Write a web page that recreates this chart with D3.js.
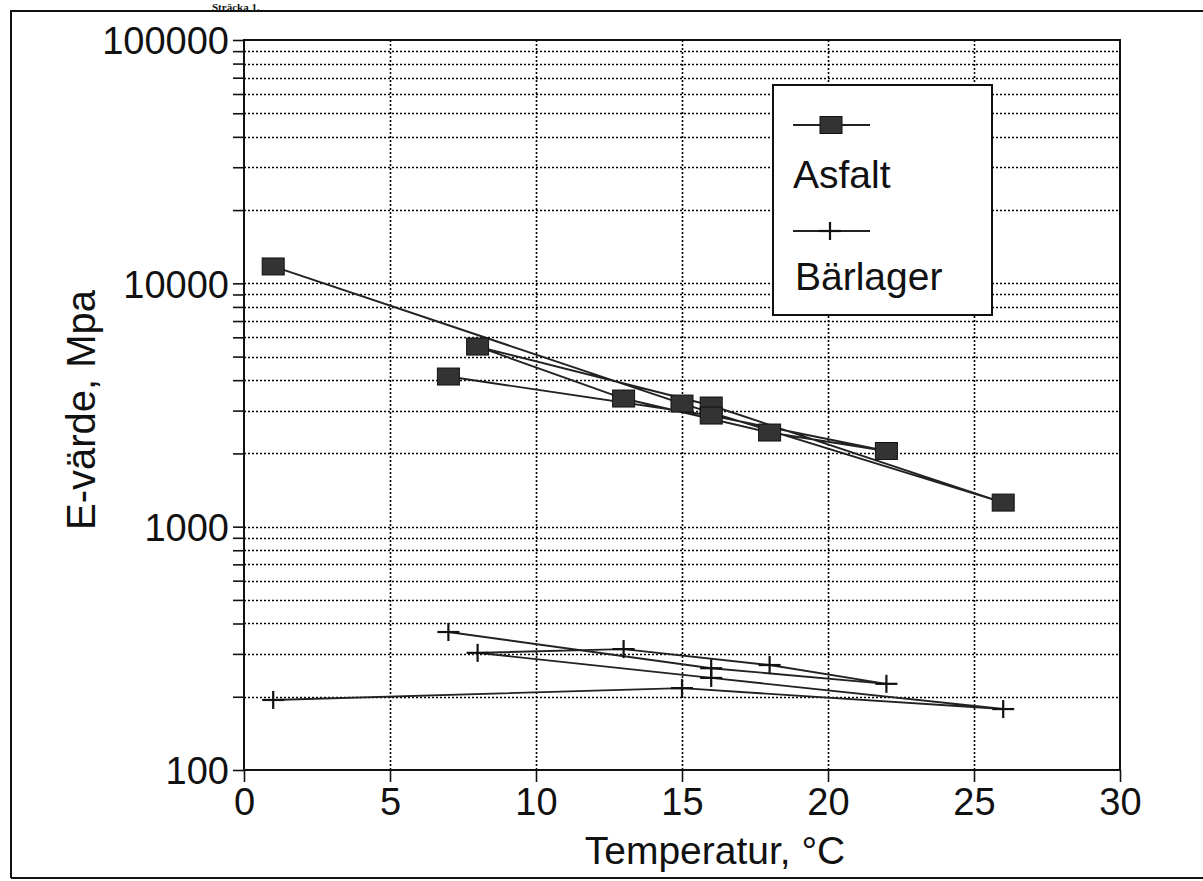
<!DOCTYPE html>
<html><head><meta charset="utf-8">
<script src="https://cdn.jsdelivr.net/npm/d3@7"></script>
<style>body{margin:0;background:#fff;} text{font-family:"Liberation Sans",Arial,sans-serif;fill:#111;}</style>
</head><body>
<svg id="c" width="1203" height="881"></svg>
<script>
// Data (measurement order, connected in sequence)
const temps    = [1, 15, 26, 16, 8, 13, 18, 22, 16, 7];
const asfalt   = [11730, 3206, 1256, 3147, 5497, 3362, 2437, 2046, 2862, 4140];
const barlager = [194, 217, 178, 239, 303, 314, 270, 226, 262, 369];
const xTicks   = [0, 5, 10, 15, 20, 25, 30];
const yLabels  = [100, 1000, 10000, 100000];
const legendNames = ["Asfalt", "Bärlager"];
const xTitle = "Temperatur, °C";
const yTitle = "E-värde, Mpa";
const pageTitle = "Sträcka 1.";

const svg = d3.select("#c");
const L = 244, R = 1120, T = 40, B = 770;
const x = d3.scaleLinear().domain([0, 30]).range([L, R]);
const y = d3.scaleLog().domain([100, 100000]).range([B, T]);

// outer page frame
svg.append("path").attr("d", `M11,878 L11,11 L1203,11`).attr("fill","none").attr("stroke","#111").attr("stroke-width",2);
svg.append("line").attr("x1",11).attr("x2",1203).attr("y1",878).attr("y2",878).attr("stroke","#111").attr("stroke-width",2);

// page title (above the frame)
svg.append("text").attr("x",212).attr("y",10.5)
  .style("font-family","Liberation Serif, serif").attr("font-weight","bold").attr("font-size",11).text(pageTitle);

// minor tick values
const allTicks = [];
[100, 1000, 10000].forEach(d => { for (let k = 1; k <= 9; k++) allTicks.push(k * d); });
allTicks.push(100000);

// horizontal dotted gridlines
svg.append("g").selectAll("line").data(allTicks.filter(v => v > 100 && v < 100000)).join("line")
  .attr("x1", L).attr("x2", R).attr("y1", d => Math.round(y(d)) + 0.5).attr("y2", d => Math.round(y(d)) + 0.5)
  .attr("stroke", "#000").attr("stroke-width", 1.6).attr("stroke-dasharray", "2,2");
// vertical dotted gridlines
svg.append("g").selectAll("line").data(xTicks.filter(v => v > 0 && v < 30)).join("line")
  .attr("x1", d => Math.round(x(d)) + 0.5).attr("x2", d => Math.round(x(d)) + 0.5).attr("y1", T).attr("y2", B)
  .attr("stroke", "#000").attr("stroke-width", 1.6).attr("stroke-dasharray", "2,2");

// plot frame
svg.append("rect").attr("x", L).attr("y", T).attr("width", R - L).attr("height", B - T)
  .attr("fill", "none").attr("stroke", "#111").attr("stroke-width", 2);

// axes
const yAxis = d3.axisLeft(y).tickValues(allTicks).tickSize(11).tickPadding(4)
  .tickFormat(d => yLabels.includes(d) ? String(d) : "");
const gy = svg.append("g").attr("transform", `translate(${L},0)`).call(yAxis);
gy.select(".domain").remove();
gy.selectAll(".tick line").attr("stroke", "#111").attr("stroke-width", 1.6);
gy.selectAll(".tick text").attr("font-size", 38).attr("fill", "#111")
  .style("font-family", "Liberation Sans, Arial, sans-serif").attr("dy", "0.36em");

const xAxis = d3.axisBottom(x).tickValues(xTicks).tickSize(12).tickPadding(6).tickFormat(d3.format("d"));
const gx = svg.append("g").attr("transform", `translate(0,${B})`).call(xAxis);
gx.select(".domain").remove();
gx.selectAll(".tick line").attr("stroke", "#111").attr("stroke-width", 1.6);
gx.selectAll(".tick text").attr("font-size", 38).attr("fill", "#111")
  .style("font-family", "Liberation Sans, Arial, sans-serif");

// axis titles
svg.append("text").attr("x", 715).attr("y", 864).attr("text-anchor", "middle")
  .attr("font-size", 39).text(xTitle);
svg.append("text").attr("transform", "translate(95,410) rotate(-90)").attr("text-anchor", "middle")
  .attr("font-size", 40).text(yTitle);

// lines
const line = vals => d3.line().x((d, i) => x(temps[i])).y(d => y(d))(vals);
svg.append("path").attr("d", line(asfalt)).attr("fill", "none").attr("stroke", "#222").attr("stroke-width", 1.9);
svg.append("path").attr("d", line(barlager)).attr("fill", "none").attr("stroke", "#222").attr("stroke-width", 1.9);

// markers
const SW = 22, SH = 17;
svg.append("g").selectAll("rect").data(asfalt).join("rect")
  .attr("x", (d, i) => x(temps[i]) - SW / 2).attr("y", d => y(d) - SH / 2)
  .attr("width", SW).attr("height", SH).attr("fill", "#333").attr("stroke", "#111").attr("stroke-width", 1);
const cross = (g, cx, cy) => {
  g.append("line").attr("x1", cx - 11).attr("x2", cx + 11).attr("y1", cy).attr("y2", cy).attr("stroke", "#111").attr("stroke-width", 2.2);
  g.append("line").attr("x1", cx).attr("x2", cx).attr("y1", cy - 9).attr("y2", cy + 9).attr("stroke", "#111").attr("stroke-width", 2.2);
};
const gc = svg.append("g");
barlager.forEach((d, i) => cross(gc, x(temps[i]), y(d)));

// legend
const lg = svg.append("g");
lg.append("rect").attr("x", 773).attr("y", 85).attr("width", 219).attr("height", 230)
  .attr("fill", "#fff").attr("stroke", "#111").attr("stroke-width", 2);
lg.append("line").attr("x1", 793).attr("x2", 870).attr("y1", 125).attr("y2", 125).attr("stroke", "#222").attr("stroke-width", 1.8);
lg.append("rect").attr("x", 831 - SW / 2).attr("y", 125 - SH / 2).attr("width", SW).attr("height", SH)
  .attr("fill", "#333").attr("stroke", "#111").attr("stroke-width", 1);
lg.append("text").attr("x", 793).attr("y", 188).attr("font-size", 39).text(legendNames[0]);
lg.append("line").attr("x1", 793).attr("x2", 870).attr("y1", 231).attr("y2", 231).attr("stroke", "#222").attr("stroke-width", 1.8);
cross(lg, 830, 231);
lg.append("text").attr("x", 795).attr("y", 290).attr("font-size", 39).text(legendNames[1]);
</script>
</body></html>
